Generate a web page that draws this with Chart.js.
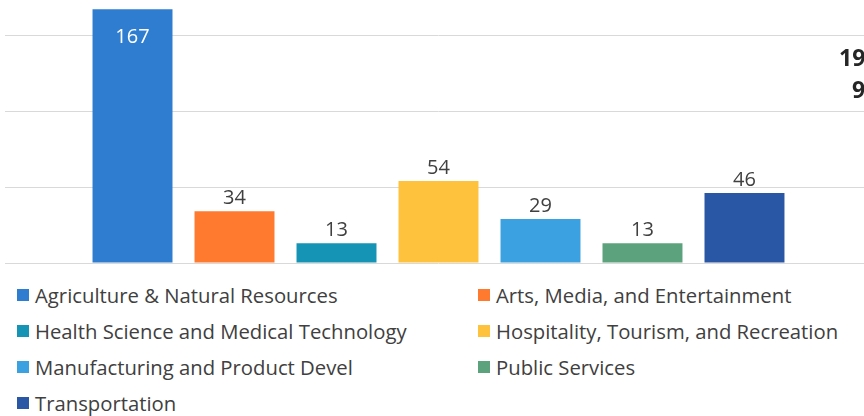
<!DOCTYPE html>
<html>
<head>
<meta charset="utf-8">
<script src="https://cdn.jsdelivr.net/npm/chart.js@4.4.1/dist/chart.umd.min.js"></script>
<style>
    html, body { margin: 0; padding: 0; background: #fff; overflow: hidden; }
    body { width: 864px; height: 416px; position: relative; font-family: "Open Sans", "Noto Sans", sans-serif; }
    #chart-box { position: absolute; left: 0; top: -41px; width: 872px; height: 306px; }
    #legend {
        position: absolute; left: 17px; top: 277px;
        display: grid; grid-template-columns: 461px auto; grid-auto-rows: 36px;
        font-size: 20.3px; color: #404040;
    }
    .item { display: flex; align-items: center; white-space: nowrap; }
    .box { width: 12px; height: 12px; margin-right: 6px; }
    .side { position: absolute; font-weight: bold; font-size: 23px; color: #262626; }
</style>
</head>
<body>
<div id="chart-box"><canvas id="career-chart"></canvas></div>
<div id="legend"></div>
<div class="side" style="left:839px; top:41px;">19</div>
<div class="side" style="left:852px; top:73px;">9</div>
<script>
// Số học sinh theo từng ngành
const pathways = [
    'Agriculture & Natural Resources',
    'Arts, Media, and Entertainment',
    'Health Science and Medical Technology',
    'Hospitality, Tourism, and Recreation',
    'Manufacturing and Product Devel',
    'Public Services',
    'Transportation'
];
const counts = [167, 34, 13, 54, 29, 13, 46];
const barColors = ['#2F7DD0', '#FF7A2E', '#1594B6', '#FFC23C', '#3BA1E1', '#5CA37D', '#2A57A5'];
const yTicks = [0, 50, 100, 150, 200];

// Vẽ nhãn giá trị trên / trong cột
const valueLabels = {
    id: 'valueLabels',
    afterDatasetsDraw(chart) {
        const ctx = chart.ctx;
        ctx.save();
        ctx.font = '20px "Open Sans", "Noto Sans", sans-serif';
        ctx.textAlign = 'center';
        ctx.textBaseline = 'middle';
        chart.data.datasets.forEach((ds, i) => {
            const bar = chart.getDatasetMeta(i).data[0];
            if (!bar) return;
            if (bar.y - chart.chartArea.top < 80) {
                ctx.fillStyle = '#ffffff';
                ctx.fillText(ds.data[0], bar.x, bar.y + 28);
            } else {
                ctx.fillStyle = '#404040';
                ctx.fillText(ds.data[0], bar.x, bar.y - 13);
            }
        });
        ctx.restore();
    }
};

const datasets = pathways.map((name, i) => ({
    label: name,
    data: [counts[i]],
    backgroundColor: barColors[i],
    categoryPercentage: 0.8235,
    barPercentage: 0.784
}));

const chart = new Chart(document.getElementById('career-chart'), {
    type: 'bar',
    data: { labels: [''], datasets: datasets },
    options: {
        responsive: true,
        maintainAspectRatio: false,
        animation: false,
        layout: { padding: { left: 5, right: 0, top: 0, bottom: 2 } },
        scales: {
            x: { display: false },
            y: {
                min: yTicks[0],
                max: yTicks[yTicks.length - 1],
                afterBuildTicks: axis => { axis.ticks = yTicks.map(v => ({ value: v })); },
                ticks: { display: false },
                border: { display: false },
                grid: { color: '#d9d9d9', lineWidth: 1, drawTicks: false }
            }
        },
        plugins: {
            legend: { display: false },
            tooltip: { enabled: false }
        }
    },
    plugins: [valueLabels]
});

// Chú thích dạng HTML, hai cột
const legend = document.getElementById('legend');
pathways.forEach((name, i) => {
    const item = document.createElement('div');
    item.className = 'item';
    item.innerHTML = '<span class="box" style="background:' + barColors[i] + '"></span>' + name;
    legend.appendChild(item);
});
</script>
</body>
</html>
